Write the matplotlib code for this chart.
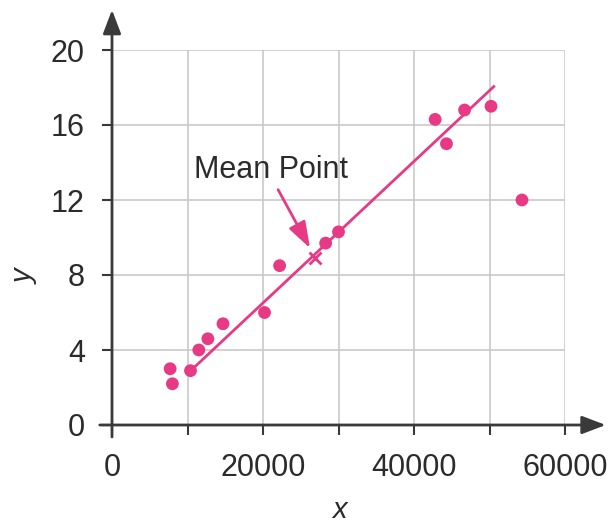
import matplotlib
matplotlib.use("Agg")
import matplotlib.pyplot as plt
from matplotlib.patches import FancyArrowPatch
import numpy as np

# Scatter data
x_vals = [7700, 8000, 10400, 11500, 12700, 14700, 20200, 22200,
          28300, 30000, 42800, 44300, 46700, 50200, 54300]
y_vals = [3.0, 2.2, 2.9, 4.0, 4.6, 5.4, 6.0, 8.5,
          9.7, 10.3, 16.3, 15.0, 16.8, 17.0, 12.0]

# Line of best fit (drawn by eye through the mean point)
line_x = [10700, 50700]
line_y = [3.0, 18.1]

x_ticks = [0, 10000, 20000, 30000, 40000, 50000, 60000]
x_tick_labels = ["0", "", "20000", "", "40000", "", "60000"]
y_ticks = [0, 4, 8, 12, 16, 20]
y_tick_labels = ["0", "4", "8", "12", "16", "20"]

PINK = "#e83a84"
AXIS = "#3a3a3a"
TEXT = "#2b2b2b"
GRID = "#c9c9c9"

plt.rcParams["font.family"] = ["Liberation Sans", "DejaVu Sans"]

W, H = 611, 528
fig = plt.figure(figsize=(W / 100, H / 100), dpi=100)
ax = fig.add_axes([112 / W, (H - 425) / H, (565 - 112) / W, (425 - 50) / H])

ax.set_xlim(0, 60000)
ax.set_ylim(0, 20)
for s in ax.spines.values():
    s.set_visible(False)

ax.set_xticks(x_ticks)
ax.set_xticklabels(x_tick_labels)
ax.set_yticks(y_ticks)
ax.set_yticklabels(y_tick_labels)
ax.tick_params(axis="both", direction="out", length=7.5, width=1.5,
               color=AXIS, labelsize=22, labelcolor=TEXT)
ax.tick_params(axis="x", pad=13)
ax.tick_params(axis="y", pad=12)
ax.grid(True, color=GRID, linewidth=1.2, zorder=0)
ax.set_axisbelow(True)

# Axes with arrowheads
for start, end in [((-0.027, 0), (1.09, 0)), ((0, -0.032), (0, 1.107))]:
    arr = FancyArrowPatch(start, end, transform=ax.transAxes,
                          arrowstyle="-|>,head_length=1.45,head_width=0.55",
                          mutation_scale=10, color=AXIS, linewidth=2.0,
                          clip_on=False, zorder=5, shrinkA=0, shrinkB=0)
    ax.add_patch(arr)

# Data and fitted line
ax.plot(line_x, line_y, color=PINK, linewidth=2.0, zorder=3,
        solid_capstyle="butt")
ax.scatter(x_vals, y_vals, s=85, color=PINK, edgecolors="none", zorder=4)

# Mean point
mx, my = np.mean(x_vals), np.mean(y_vals)
ax.plot([mx], [my], marker="x", markersize=8, markeredgewidth=2,
        color=PINK, zorder=4, linestyle="none")

ax.text(10870, 13.15, "Mean Point", fontsize=22, color=TEXT,
        ha="left", va="baseline")
ax.annotate("", xy=(mx, my), xytext=(22000, 12.55),
            arrowprops=dict(arrowstyle="-|>,head_length=1.6,head_width=0.55",
                            mutation_scale=10, color=PINK, linewidth=2.0,
                            shrinkA=0, shrinkB=8))

# Axis titles
fig.text(339 / W, 1 - 510 / H, "x", fontsize=21, style="italic", color=TEXT,
         ha="center", va="center")
fig.text(25 / W, 1 - 277 / H, "y", fontsize=21, style="italic", color=TEXT,
         ha="center", va="center", rotation=90)

fig.savefig("out.png", dpi=100, facecolor="white")
